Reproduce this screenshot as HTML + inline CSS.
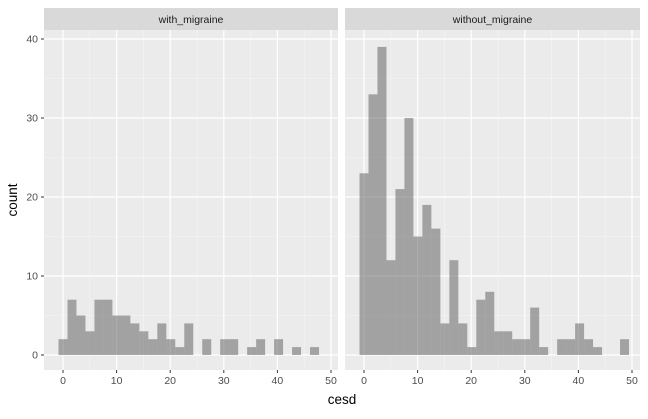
<!DOCTYPE html>
<html><head><meta charset="utf-8"><style>
body{margin:0;background:#fff;font-family:"Liberation Sans",Arial,sans-serif}
</style></head><body>
<svg id="chart" width="648" height="414" xmlns="http://www.w3.org/2000/svg"></svg>
<script>
const facets = ["with_migraine","without_migraine"];
const countsWith = [2,7,5,3,7,7,5,5,4,3,2,4,2,1,4,0,2,0,2,2,0,1,2,0,2,0,1,0,1,0];
const countsWithout = [23,33,39,12,21,30,15,19,16,4,12,4,1,7,8,3,3,2,2,6,1,0,2,2,4,2,1,0,0,2];
const xTicks = [0,10,20,30,40,50];
const yTicks = [0,10,20,30,40];
const binWidth = 1.676;

const svg = document.getElementById('chart');
const NS = 'http://www.w3.org/2000/svg';
function mk(tag, attrs, parent){const e=document.createElementNS(NS,tag);for(const k in attrs)e.setAttribute(k,attrs[k]);(parent||svg).appendChild(e);return e;}
const panels = [{x0:44,x1:338,zero:63},{x0:345,x1:640,zero:364}];
const pxPerUnit = 5.36;
const panelTop = 30, panelBottom = 370;
const yScale = v => 355 - v*7.9;
const allCounts = [countsWith, countsWithout];

panels.forEach((p,i)=>{
  const xs = v => p.zero + v*pxPerUnit;
  const strip = mk('rect',{x:p.x0,y:8,width:p.x1-p.x0,height:22,fill:'#d9d9d9'});
  
  
  const st = mk('text',{x:(p.x0+p.x1)/2,y:23,'text-anchor':'middle','font-size':'10.5',fill:'#1a1a1a'});
  st.textContent = facets[i];
  
  
  const bg = mk('rect',{x:p.x0,y:panelTop,width:p.x1-p.x0,height:panelBottom-panelTop,fill:'#ebebeb'});
  
  
  for(let k=0;k<yTicks.length-1;k++){const yy=yScale((yTicks[k]+yTicks[k+1])/2);mk('line',{x1:p.x0,x2:p.x1,y1:yy,y2:yy,stroke:'#f5f5f5','stroke-width':0.6});}
  for(let k=0;k<xTicks.length-1;k++){const xx=xs((xTicks[k]+xTicks[k+1])/2);mk('line',{x1:xx,x2:xx,y1:panelTop,y2:panelBottom,stroke:'#f5f5f5','stroke-width':0.6});}
  yTicks.forEach(t=>mk('line',{x1:p.x0,x2:p.x1,y1:yScale(t),y2:yScale(t),stroke:'#fff','stroke-width':1.2}));
  xTicks.forEach(t=>mk('line',{x1:xs(t),x2:xs(t),y1:panelTop,y2:panelBottom,stroke:'#fff','stroke-width':1.2}));
  allCounts[i].forEach((c,k)=>{
    if(c<=0) return;
    const l = xs(k*binWidth - binWidth/2), r = xs(k*binWidth + binWidth/2);
    const b = mk('rect',{x:l,y:yScale(c),width:r-l,height:yScale(0)-yScale(c),fill:'#595959','fill-opacity':0.5});
    
    
  });
  xTicks.forEach(t=>{
    mk('line',{x1:xs(t),x2:xs(t),y1:panelBottom,y2:panelBottom+3,stroke:'#333','stroke-width':1});
    const tl = mk('text',{x:xs(t),y:panelBottom+14,'text-anchor':'middle','font-size':'10.5',fill:'#4d4d4d'});
    tl.textContent = t;
    
    
  });
});
yTicks.forEach(t=>{
  mk('line',{x1:41,x2:44,y1:yScale(t),y2:yScale(t),stroke:'#333','stroke-width':1});
  const tl = mk('text',{x:38,y:yScale(t)+3.5,'text-anchor':'end','font-size':'10.5',fill:'#4d4d4d'});
  tl.textContent = t;
  
  
});
const xt = mk('text',{x:342,y:404,'text-anchor':'middle','font-size':'13.5',fill:'#000'});
xt.textContent='cesd';


const yt = mk('text',{x:17,y:200,'text-anchor':'middle','font-size':'13.5',fill:'#000',transform:'rotate(-90 17 200)'});
yt.textContent='count';


</script>
</body></html>
